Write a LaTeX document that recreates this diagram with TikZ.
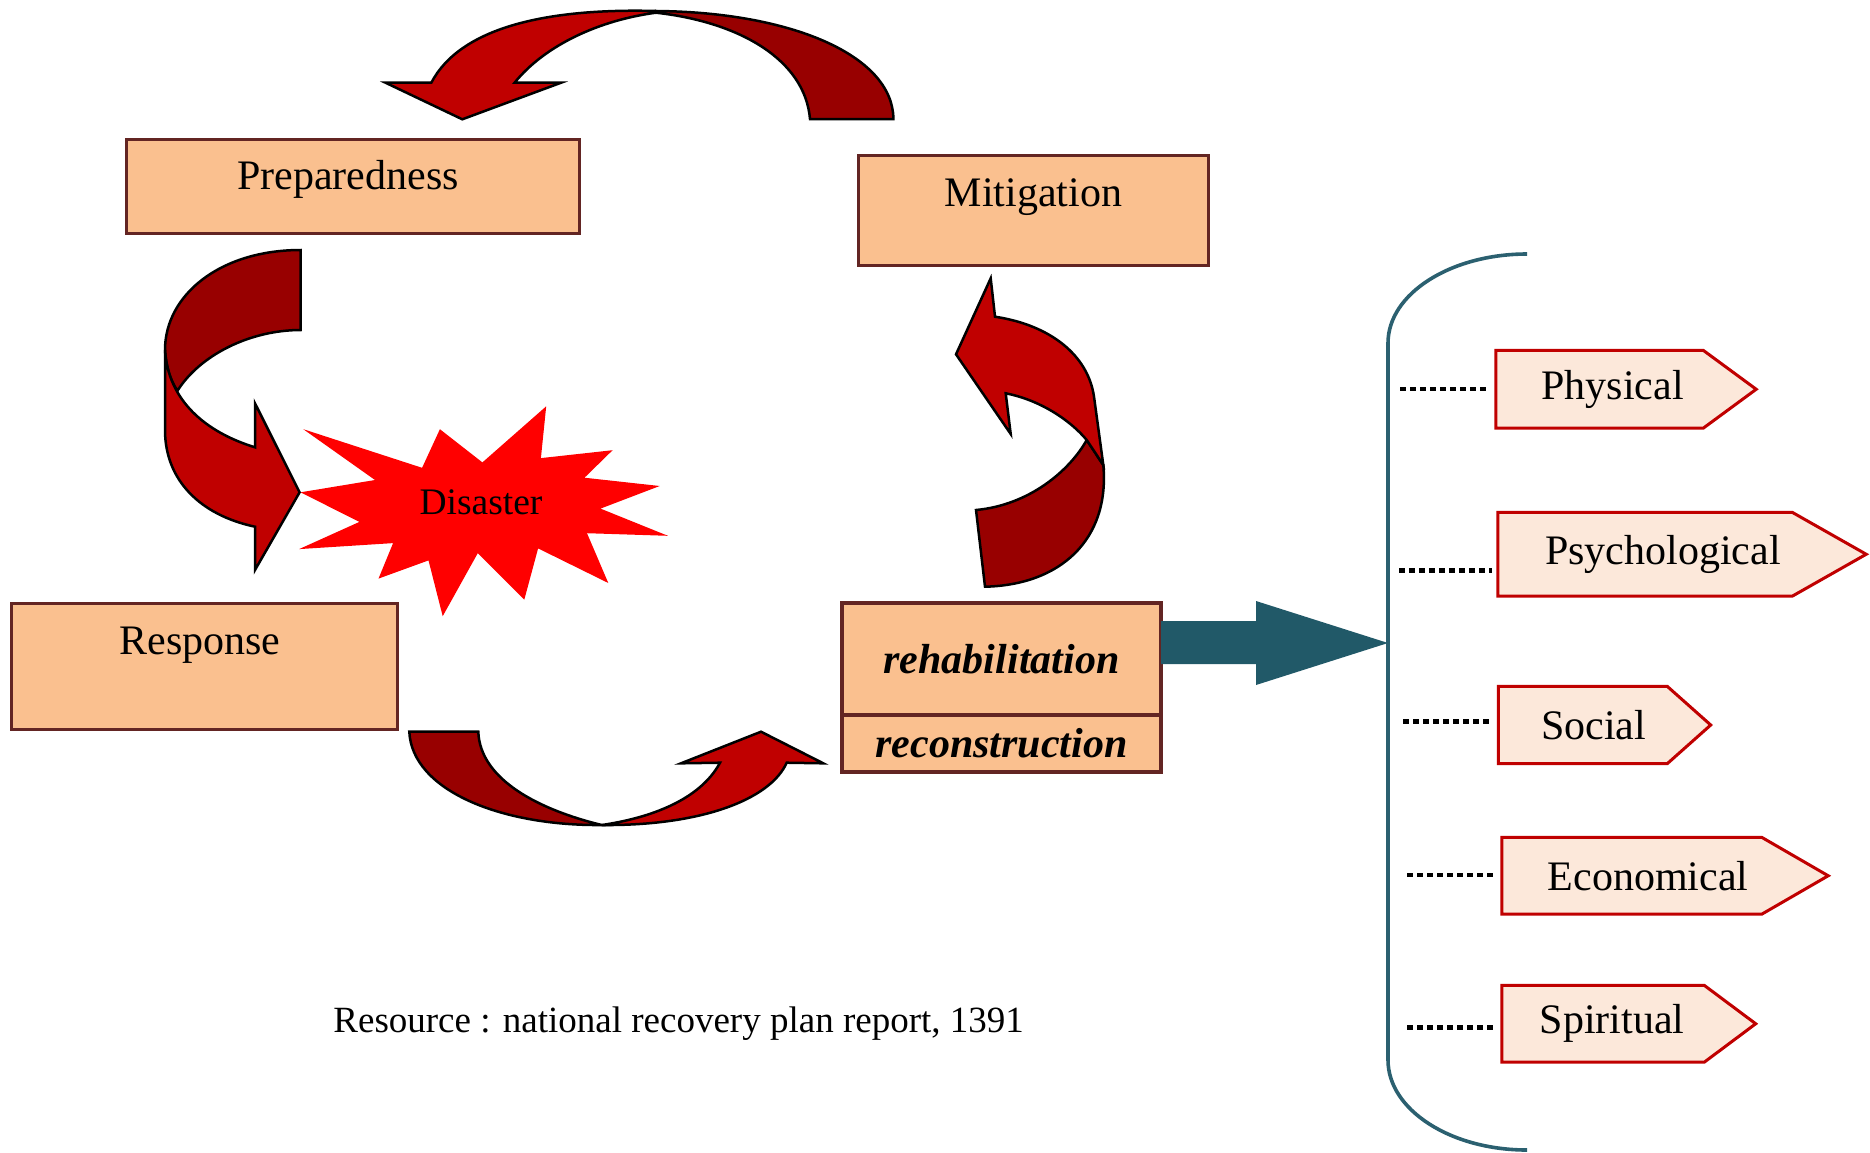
\documentclass[tikz,border=0pt]{standalone}
\usepackage{fontspec}
\setmainfont{Liberation Serif}
\usetikzlibrary{calc}
\definecolor{boxfill}{HTML}{FAC08F}
\definecolor{boxline}{HTML}{632523}
\definecolor{brightred}{HTML}{C00000}
\definecolor{darkred}{HTML}{980000}
\definecolor{tealA}{HTML}{215968}
\definecolor{bracketc}{HTML}{2B6070}
\definecolor{tagfill}{HTML}{FCE8DA}
\definecolor{tagline}{HTML}{C00000}
\pgfdeclarelayer{bg}
\pgfsetlayers{bg,main}
\begin{document}
\begin{tikzpicture}[x=1pt,y=-1pt,line join=miter,
  bigbox/.style={draw=boxline,line width=3pt,fill=boxfill,inner sep=0pt,font=\fontsize{42}{50}\selectfont},
  rbox/.style={draw=boxline,line width=4.5pt,fill=boxfill,inner sep=0pt,font=\fontsize{42}{50}\selectfont\bfseries\itshape},
  ribB/.style={fill=brightred,draw=black,line width=2.5pt},
  ribD/.style={fill=darkred,draw=black,line width=2.5pt},
  tag/.style={inner sep=0pt,font=\fontsize{42}{50}\selectfont},
  tagshape/.style={fill=tagfill,draw=tagline,line width=3pt},
  dotline/.style={line width=4.2pt,dash pattern=on 5.5pt off 4.5pt,shorten >=6pt}]
\begin{pgfonlayer}{bg}
\fill[white] (0,0) rectangle (1870,1152);
\end{pgfonlayer}
\useasboundingbox (0,0) rectangle (1870,1152);

% boxes
\node[bigbox,minimum width=453pt,minimum height=94pt,text height=30pt,text depth=25pt] (prep) at (353,186.5) {Preparedness\hspace*{10pt}};
\node[bigbox,minimum width=350pt,minimum height=110pt,text height=25pt,text depth=34pt] (miti) at (1033.5,210.5) {Mitigation};
\node[bigbox,minimum width=386pt,minimum height=126pt,text height=20pt,text depth=45pt] (resp) at (204,666.5) {Response\hspace*{8pt}};
\node[rbox,minimum width=319pt,minimum height=112pt] (rehab) at (1001.5,659) {rehabilitation};
\node[rbox,minimum width=319pt,minimum height=57pt] (recon) at (1001.5,743.5) {reconstruction};

% top curved arrow
\draw[ribD] (656,11) .. controls (790,12) and (893,55) .. (893.4,119) -- (810,119) .. controls (805,60) and (740,22) .. (656,12.7) -- cycle;
\draw[ribB] (656,11) .. controls (545,8) and (460,28) .. (431.3,82.7) -- (385.5,82.7) -- (462.3,119.3) -- (561.1,82.7) -- (514.6,82.7) .. controls (545,45) and (600,20) .. (656,12.7) -- cycle;

% left curved arrow
\draw[ribD] (300.7,250) .. controls (220,250) and (165,295) .. (165,350) .. controls (166,366) and (170,380) .. (177.5,390.7) .. controls (200,355) and (250,330) .. (300.7,330) -- cycle;
\draw[ribB] (165,350) -- (165,430) .. controls (165,480) and (200,515) .. (255,526.7) -- (255,570) -- (299.6,492.3) -- (255,403.3) -- (255,447.3) .. controls (205,432) and (168,400) .. (165,350) -- cycle;

% right curved arrow
\draw[ribD] (1086.7,440) -- (1103.3,465) .. controls (1110,540) and (1060,585) .. (985,586.7) -- (976,510) .. controls (1030,505) and (1070,470) .. (1086.7,440) -- cycle;
\draw[ribB] (995,316.7) .. controls (1050,325) and (1088,355) .. (1094,396.7) -- (1103.3,465) -- (1086.7,440) .. controls (1070,420) and (1040,400) .. (1005.7,393.3) -- (1010.7,434) -- (956,354.3) -- (990.7,278.3) -- cycle;

% bottom curved arrow
\draw[ribD] (409.3,731.7) .. controls (412,790) and (500,826) .. (601.7,825) .. controls (540,810) and (480,780) .. (478.3,731.7) -- cycle;
\draw[ribB] (601.7,825) .. controls (700,826) and (770,800) .. (786.7,762.7) -- (823.3,763.3) -- (761,731.7) -- (681,763.3) -- (720,762.7) .. controls (700,800) and (650,818) .. (601.7,825) -- cycle;

% disaster star
\fill[red] (300.5,492.3) -- (375,480) -- (303.3,429.2) -- (422.1,467.8) -- (439.9,429.2) -- (482.4,462.4) -- (546.2,406.3) -- (540.9,458.1) -- (612.6,450.2) -- (584.5,477.7) -- (659.7,486) -- (600.5,508.6) -- (667.9,535.8) -- (587,533.2) -- (608.3,583) -- (538.1,548.4) -- (524.3,599.6) -- (477.8,553.1) -- (442.7,616.2) -- (428.5,560.4) -- (378.5,578.6) -- (393.1,543.1) -- (299.1,549.1) -- (359.4,521.9) -- cycle;
\node[font=\fontsize{37.5}{45}\selectfont,inner sep=0pt] (dis) at (481,502) {Disaster};

% teal arrow
\fill[tealA] (1161,621) -- (1256,621) -- (1256,601) -- (1388,643) -- (1256,685) -- (1256,664) -- (1161,664) -- cycle;

% bracket
\draw[bracketc,line width=3.6pt] (1527,254) .. controls (1450.3,254) and (1388,293.9) .. (1388,343) -- (1388,1060) .. controls (1388,1109.7) and (1450.3,1150) .. (1527,1150);

% tags
\node[tag,minimum width=207pt,minimum height=77.5pt] (phys) at (1599.5,389.25) {\hspace*{26pt}Physical};
\node[tag,minimum width=294pt,minimum height=83.5pt] (psy) at (1645,554.25) {\hspace*{36pt}Psychological};
\node[tag,minimum width=168.5pt,minimum height=77pt] (soc) at (1582.75,725) {\hspace*{22pt}Social};
\node[tag,minimum width=259.5pt,minimum height=76.5pt] (eco) at (1631.75,875.75) {\hspace*{33pt}Economical};
\node[tag,minimum width=202pt,minimum height=76.5pt] (spi) at (1603,1023.75) {\hspace*{18pt}Spiritual};
\begin{pgfonlayer}{bg}
\foreach \n/\t in {phys/53,psy/74,soc/43.5,eco/66.5,spi/51.5}{
  \draw[tagshape] (\n.north west) -- (\n.north east) -- ($(\n.east)+(\t,0)$) -- (\n.south east) -- (\n.south west) -- cycle;
}
\end{pgfonlayer}

\coordinate (bp1) at (1400,389);
\coordinate (bp2) at (1399,570.5);
\coordinate (bp3) at (1403,721.5);
\coordinate (bp4) at (1407,875);
\coordinate (bp5) at (1407,1027.5);
\draw[dotline] (bp1) -- (bp1 -| phys.west);
\draw[dotline] (bp2) -- (bp2 -| psy.west);
\draw[dotline] (bp3) -- (bp3 -| soc.west);
\draw[dotline] (bp4) -- (bp4 -| eco.west);
\draw[dotline] (bp5) -- (bp5 -| spi.west);

% caption
\node[font=\fontsize{37}{44}\selectfont,inner sep=0pt] (src) at (678.6,1024) {Resource : national recovery plan report, 1391};
\end{tikzpicture}
\end{document}
